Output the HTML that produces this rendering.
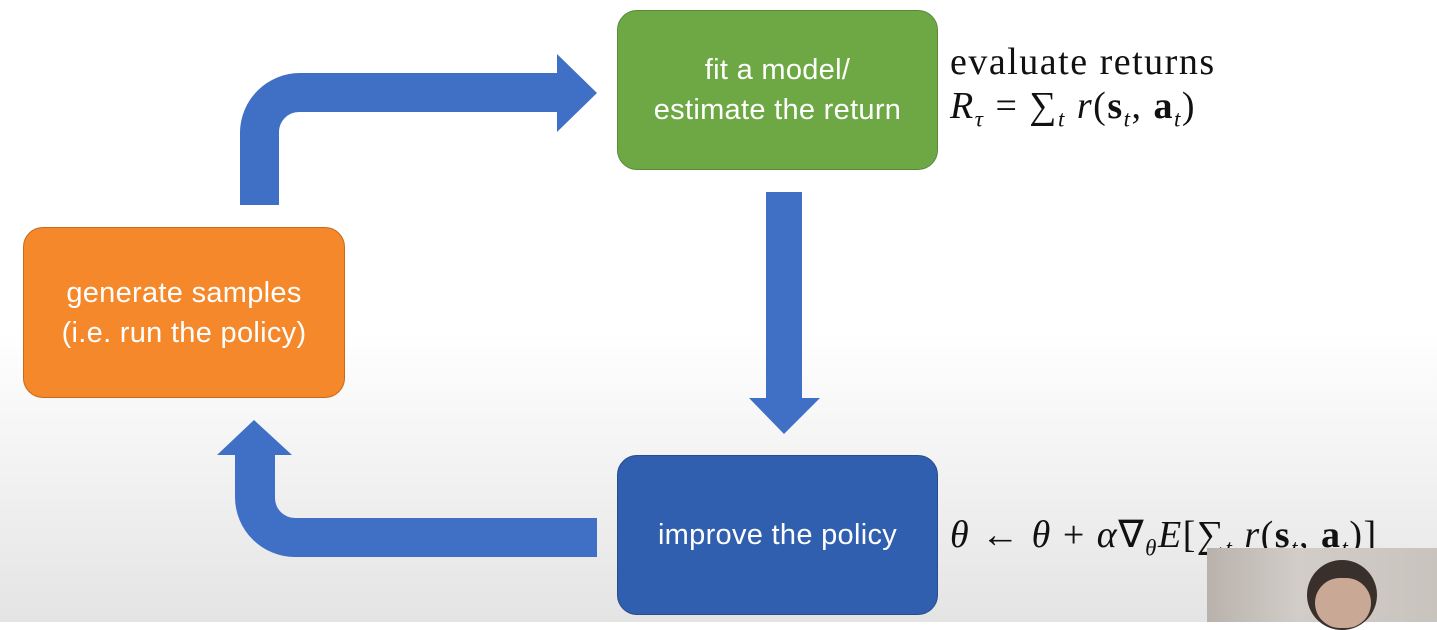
<!DOCTYPE html>
<html><head><style>
body{margin:0;width:1437px;height:622px;overflow:hidden;position:relative;font-family:"Liberation Sans",sans-serif;
background:linear-gradient(#fff 0,#fff 330px,#e4e4e4 622px);}
.box{position:absolute;border-radius:20px;color:#fff;font-size:29px;display:flex;align-items:center;justify-content:center;text-align:center;line-height:40px;box-sizing:border-box;letter-spacing:0.3px}
.m{position:absolute;font-family:"Liberation Serif",serif;font-size:38px;color:#111;white-space:nowrap;letter-spacing:1.5px}
.m sub{font-size:23px}
</style></head><body>
<svg width="1437" height="622" style="position:absolute;left:0;top:0">
<path d="M240 205 V133 A60 60 0 0 1 300 73 H557 V54 L597 93 L557 132 V112 H299 A20 20 0 0 0 279 132 V205 Z" fill="#3f70c6"/>
<rect x="766" y="192" width="36" height="207" fill="#3f70c6"/>
<path d="M749 398 H820 L784 434 Z" fill="#3f70c6"/>
<path d="M597 557 H295 A60 60 0 0 1 235 497 V455 H217 L254 420 L292 455 H275 V498 A20 20 0 0 0 295 518 H597 Z" fill="#3f70c6"/>
</svg>
<div class="box" style="left:617px;top:10px;width:321px;height:160px;background:#6ea845;border:1.5px solid #5a8a38">fit a model/<br>estimate the return</div>
<div class="box" style="left:23px;top:227px;width:322px;height:171px;background:#f5882a;border:1.5px solid #c96a18">generate samples<br>(i.e. run the policy)</div>
<div class="box" style="left:617px;top:455px;width:321px;height:160px;background:#2f5fae;border:1.5px solid #254d90">improve the policy</div>
<div class="m" style="left:950px;top:40px">evaluate returns</div>
<div class="m" style="left:950px;top:84px"><i>R<sub>τ</sub></i> = ∑<sub><i>t</i></sub> <i>r</i>(<b>s</b><sub><i>t</i></sub>, <b>a</b><sub><i>t</i></sub>)</div>
<div class="m" style="left:950px;top:512px"><i>θ</i> ← <i>θ</i> + <i>α</i>∇<sub><i>θ</i></sub><i>E</i>[∑<sub><i>t</i></sub> <i>r</i>(<b>s</b><sub><i>t</i></sub>, <b>a</b><sub><i>t</i></sub>)]</div>
<div style="position:absolute;left:1207px;top:548px;width:230px;height:74px;background:linear-gradient(90deg,#b9b2ac,#d2cdc8 40%,#c9c3be)">
<div style="position:absolute;left:100px;top:12px;width:70px;height:70px;border-radius:35px;background:#3a302b"></div>
<div style="position:absolute;left:108px;top:30px;width:56px;height:50px;border-radius:25px;background:#c9a896"></div>
</div>
</body></html>
